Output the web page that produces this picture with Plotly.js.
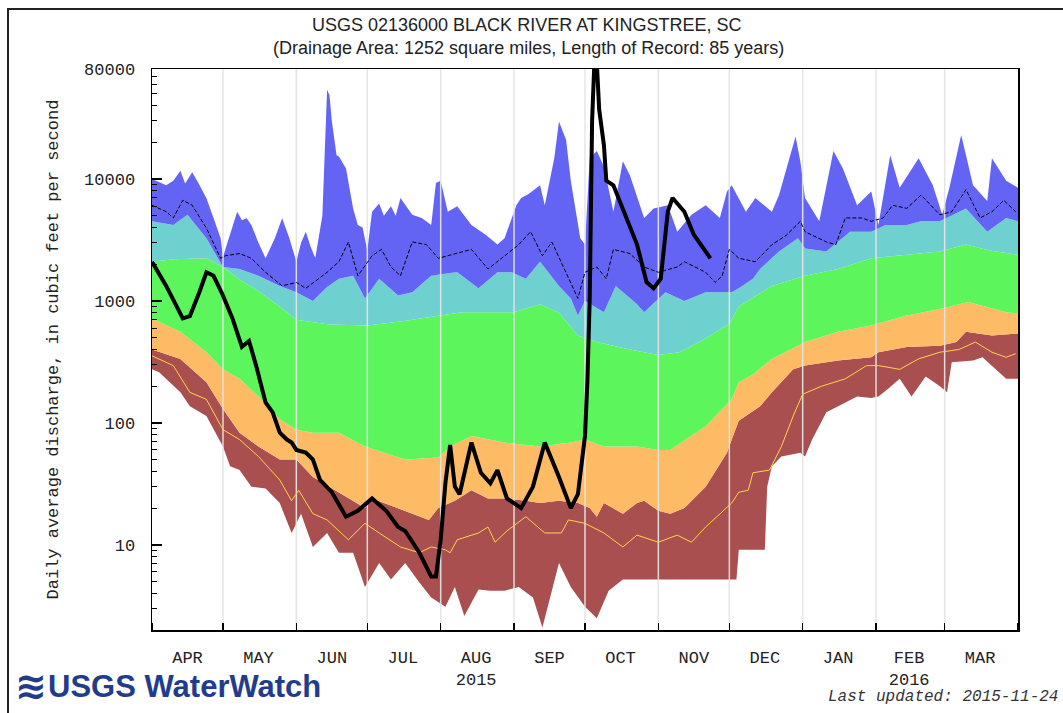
<!DOCTYPE html>
<html><head><meta charset="utf-8">
<script src="https://cdn.plot.ly/plotly-3.0.1.min.js"></script>
<style>html,body{margin:0;padding:0;background:#fff;}#chart{width:1063px;height:713px;}</style>
</head><body><div id="chart"></div>
<script>
// ---- data (cfs) ----
const maxFlow = [['2015-04-01',10000],['2015-04-07',8900],['2015-04-10',9700],['2015-04-13',11700],['2015-04-15',9200],['2015-04-18',11400],['2015-04-21',9000],['2015-04-24',6950],['2015-04-27',4800],['2015-04-30',3270],['2015-05-01',2300],['2015-05-04',3500],['2015-05-07',5400],['2015-05-09',4600],['2015-05-11',4780],['2015-05-13',4200],['2015-05-16',3000],['2015-05-19',2240],['2015-05-23',3300],['2015-05-26',4780],['2015-05-29',3300],['2015-06-01',2100],['2015-06-03',3000],['2015-06-05',3700],['2015-06-07',2800],['2015-06-09',2250],['2015-06-12',5000],['2015-06-14',54000],['2015-06-15',49000],['2015-06-16',30000],['2015-06-18',15700],['2015-06-19',15300],['2015-06-22',12200],['2015-06-25',5750],['2015-06-27',4200],['2015-06-29',4000],['2015-07-01',2600],['2015-07-03',5400],['2015-07-06',6300],['2015-07-08',5000],['2015-07-11',6000],['2015-07-13',5000],['2015-07-15',7000],['2015-07-20',5100],['2015-07-24',4800],['2015-07-28',4200],['2015-07-30',9300],['2015-08-01',9700],['2015-08-04',5400],['2015-08-08',6000],['2015-08-14',4200],['2015-08-20',3500],['2015-08-25',2900],['2015-08-28',3270],['2015-08-30',4200],['2015-09-02',6100],['2015-09-04',7000],['2015-09-07',7500],['2015-09-12',8900],['2015-09-14',6100],['2015-09-18',14800],['2015-09-20',29700],['2015-09-23',21000],['2015-09-25',9700],['2015-09-29',3270],['2015-10-01',2900],['2015-10-03',14800],['2015-10-06',17000],['2015-10-09',12700],['2015-10-13',5400],['2015-10-17',14000],['2015-10-20',10700],['2015-10-26',4800],['2015-10-30',5750],['2015-11-05',6100],['2015-11-09',3700],['2015-11-15',5100],['2015-11-21',6100],['2015-11-27',4800],['2015-11-30',7900],['2015-12-02',8900],['2015-12-08',5400],['2015-12-12',7000],['2015-12-19',5400],['2015-12-22',7400],['2015-12-29',22400],['2015-12-31',14000],['2016-01-02',7000],['2016-01-08',4500],['2016-01-14',17000],['2016-01-18',12200],['2016-01-24',6100],['2016-01-30',7900],['2016-02-02',4200],['2016-02-07',15700],['2016-02-11',8500],['2016-02-19',14800],['2016-02-25',8900],['2016-02-29',5100],['2016-03-03',8500],['2016-03-08',23000],['2016-03-13',8900],['2016-03-19',6600],['2016-03-21',14800],['2016-03-27',9700],['2016-04-01',8500]];

const p90Flow = [['2015-04-01',4500],['2015-04-10',4200],['2015-04-16',5100],['2015-04-24',3270],['2015-05-01',1900],['2015-05-08',1830],['2015-05-16',1610],['2015-05-25',1330],['2015-06-01',1180],['2015-06-08',1000],['2015-06-14',1300],['2015-06-19',1520],['2015-06-25',1610],['2015-06-30',1050],['2015-07-06',1520],['2015-07-14',1110],['2015-07-20',1180],['2015-07-28',1610],['2015-08-05',1700],['2015-08-08',1720],['2015-08-17',1270],['2015-08-25',1720],['2015-08-31',1720],['2015-09-06',1520],['2015-09-12',2100],['2015-09-20',1330],['2015-09-25',1050],['2015-09-28',760],['2015-10-01',1000],['2015-10-09',810],['2015-10-14',1330],['2015-10-23',940],['2015-10-26',810],['2015-11-04',1180],['2015-11-12',1000],['2015-11-21',1180],['2015-12-02',1180],['2015-12-05',1270],['2015-12-11',1520],['2015-12-14',1830],['2015-12-22',2550],['2015-12-30',3270],['2016-01-02',2700],['2016-01-11',2550],['2016-01-21',3700],['2016-01-30',3700],['2016-02-05',4200],['2016-02-14',4200],['2016-02-20',4500],['2016-02-28',4500],['2016-03-10',5750],['2016-03-19',3700],['2016-03-27',4800],['2016-04-01',4500]];

const p75Flow = [['2015-04-01',2100],['2015-04-10',2200],['2015-04-24',2240],['2015-05-01',1900],['2015-05-08',1500],['2015-05-16',1200],['2015-05-25',900],['2015-06-01',700],['2015-06-15',640],['2015-07-01',630],['2015-07-15',680],['2015-07-31',760],['2015-08-10',810],['2015-08-25',810],['2015-09-01',810],['2015-09-12',940],['2015-09-20',800],['2015-09-28',520],['2015-10-06',460],['2015-10-20',400],['2015-11-01',360],['2015-11-10',380],['2015-11-20',480],['2015-12-01',650],['2015-12-05',900],['2015-12-19',1330],['2016-01-02',1610],['2016-01-16',1830],['2016-01-30',2240],['2016-02-14',2400],['2016-02-28',2550],['2016-03-10',2900],['2016-03-20',2600],['2016-04-01',2400]];

const p25Flow = [['2015-04-01',720],['2015-04-13',560],['2015-04-24',380],['2015-05-01',275],['2015-05-08',230],['2015-05-16',165],['2015-05-25',107],['2015-06-01',88],['2015-06-08',83],['2015-06-19',83],['2015-06-30',64],['2015-07-17',50],['2015-07-31',52],['2015-08-05',64],['2015-08-14',78],['2015-08-28',69],['2015-09-12',64],['2015-09-25',69],['2015-10-01',73],['2015-10-09',64],['2015-10-23',64],['2015-11-01',60],['2015-11-06',60],['2015-11-21',94],['2015-12-02',156],['2015-12-05',215],['2015-12-11',250],['2015-12-19',335],['2016-01-02',460],['2016-01-16',560],['2016-01-30',630],['2016-02-14',760],['2016-02-28',860],['2016-03-11',980],['2016-03-27',810],['2016-04-01',790]];

const p10Flow = [['2015-04-01',400],['2015-04-13',335],['2015-04-24',215],['2015-05-01',130],['2015-05-08',83],['2015-05-16',64],['2015-05-25',50],['2015-06-01',50],['2015-06-08',36],['2015-06-19',27],['2015-06-30',20],['2015-07-03',24],['2015-07-17',19],['2015-07-27',16],['2015-07-31',20],['2015-08-07',23],['2015-08-14',28],['2015-08-21',24],['2015-08-28',24],['2015-09-06',23],['2015-09-12',22],['2015-09-20',23],['2015-09-28',22],['2015-10-03',20],['2015-10-06',17],['2015-10-09',22],['2015-10-17',18],['2015-10-23',22],['2015-10-26',23],['2015-11-01',19],['2015-11-06',18],['2015-11-12',20],['2015-11-21',30],['2015-11-30',57],['2015-12-02',73],['2015-12-05',104],['2015-12-14',137],['2015-12-19',178],['2015-12-28',275],['2016-01-02',295],['2016-01-16',325],['2016-01-30',345],['2016-02-02',380],['2016-02-14',420],['2016-02-28',430],['2016-03-06',460],['2016-03-10',560],['2016-03-21',520],['2016-04-01',540]];

const minFlow = [['2015-04-01',275],['2015-04-04',260],['2015-04-13',178],['2015-04-17',137],['2015-04-24',114],['2015-05-01',64],['2015-05-04',44],['2015-05-08',41],['2015-05-13',30],['2015-05-19',29],['2015-05-25',22],['2015-05-30',12.5],['2015-06-03',18],['2015-06-08',9.6],['2015-06-14',12.5],['2015-06-19',8.6],['2015-06-25',8.6],['2015-06-30',4.5],['2015-07-06',7.1],['2015-07-11',5.2],['2015-07-17',7.1],['2015-07-23',4.9],['2015-07-28',3.7],['2015-08-03',3.1],['2015-08-07',4.5],['2015-08-11',2.6],['2015-08-17',4.3],['2015-08-22',4.2],['2015-08-28',4.2],['2015-09-03',4.5],['2015-09-09',3.7],['2015-09-13',2.1],['2015-09-20',7.1],['2015-09-25',4.5],['2015-10-01',3.1],['2015-10-06',2.5],['2015-10-11',4.2],['2015-10-17',5.2],['2015-12-04',5.2],['2015-12-05',9.1],['2015-12-16',9.1],['2015-12-17',30],['2015-12-19',44],['2015-12-23',53],['2015-12-31',57],['2016-01-02',53],['2016-01-05',73],['2016-01-11',122],['2016-01-16',137],['2016-01-24',165],['2016-01-30',160],['2016-02-02',165],['2016-02-06',190],['2016-02-11',230],['2016-02-16',165],['2016-02-22',240],['2016-02-28',200],['2016-03-02',178],['2016-03-04',315],['2016-03-13',325],['2016-03-17',345],['2016-03-27',230],['2016-04-01',230]];

const meanFlow = [['2015-04-01',6100],['2015-04-07',5400],['2015-04-10',4800],['2015-04-14',6700],['2015-04-18',6100],['2015-04-24',3950],['2015-04-30',2240],['2015-05-02',2350],['2015-05-08',2450],['2015-05-13',2240],['2015-05-19',1720],['2015-05-26',1330],['2015-06-01',1420],['2015-06-05',1270],['2015-06-14',1720],['2015-06-19',2100],['2015-06-23',3050],['2015-06-27',1610],['2015-07-03',2350],['2015-07-07',2650],['2015-07-11',1900],['2015-07-15',1610],['2015-07-20',3050],['2015-07-26',2900],['2015-07-31',2240],['2015-08-08',2450],['2015-08-14',2650],['2015-08-21',1830],['2015-08-28',2350],['2015-09-03',2900],['2015-09-08',3700],['2015-09-13',2350],['2015-09-17',3050],['2015-09-23',1720],['2015-09-28',1050],['2015-10-01',1720],['2015-10-06',1900],['2015-10-10',1520],['2015-10-13',2650],['2015-10-20',2450],['2015-10-26',1900],['2015-11-01',1720],['2015-11-09',1900],['2015-11-12',2100],['2015-11-21',1720],['2015-11-25',1420],['2015-11-28',1610],['2015-12-01',2650],['2015-12-05',2240],['2015-12-12',2100],['2015-12-19',2900],['2015-12-25',3450],['2015-12-31',4500],['2016-01-02',3700],['2016-01-11',3050],['2016-01-15',2900],['2016-01-19',4800],['2016-01-26',4800],['2016-01-30',4500],['2016-02-04',4800],['2016-02-08',6100],['2016-02-14',5750],['2016-02-20',7400],['2016-02-28',5100],['2016-03-04',5400],['2016-03-10',8200],['2016-03-16',4800],['2016-03-21',5400],['2016-03-26',6700],['2016-03-31',5400]];

const yellowFlow = [['2015-04-01',355],['2015-04-10',295],['2015-04-17',178],['2015-04-24',156],['2015-05-01',88],['2015-05-08',73],['2015-05-16',53],['2015-05-25',34],['2015-05-30',23],['2015-06-02',28],['2015-06-08',18],['2015-06-14',16],['2015-06-23',11],['2015-06-30',15],['2015-07-06',12.5],['2015-07-15',9.6],['2015-07-23',8.6],['2015-07-28',9.6],['2015-08-03',9.1],['2015-08-05',8.6],['2015-08-08',11],['2015-08-17',12.5],['2015-08-21',14],['2015-08-24',10.5],['2015-08-29',13],['2015-09-06',17],['2015-09-14',12.5],['2015-09-21',12.5],['2015-09-24',16],['2015-10-01',15],['2015-10-09',12.5],['2015-10-17',9.6],['2015-10-23',12],['2015-11-01',10.5],['2015-11-09',12],['2015-11-15',10.5],['2015-11-21',14],['2015-11-27',18],['2015-12-02',22],['2015-12-05',27],['2015-12-09',28],['2015-12-11',39],['2015-12-18',41],['2015-12-23',64],['2015-12-28',114],['2016-01-01',172],['2016-01-09',200],['2016-01-19',230],['2016-01-28',295],['2016-02-02',295],['2016-02-11',275],['2016-02-19',335],['2016-02-28',380],['2016-03-07',400],['2016-03-14',460],['2016-03-21',380],['2016-03-27',345],['2016-03-31',370]];

const currentFlow = [['2015-04-01',2100],['2015-04-07',1330],['2015-04-14',720],['2015-04-17',750],['2015-04-21',1180],['2015-04-24',1720],['2015-04-27',1610],['2015-05-01',1110],['2015-05-05',720],['2015-05-09',420],['2015-05-12',470],['2015-05-15',295],['2015-05-19',147],['2015-05-22',122],['2015-05-25',83],['2015-05-28',73],['2015-05-30',69],['2015-06-01',60],['2015-06-05',57],['2015-06-08',50],['2015-06-11',34],['2015-06-16',27],['2015-06-22',17],['2015-06-27',19],['2015-07-03',24],['2015-07-09',19],['2015-07-14',14],['2015-07-17',13],['2015-07-23',8.6],['2015-07-28',5.5],['2015-07-30',5.5],['2015-08-01',11],['2015-08-03',32],['2015-08-05',66],['2015-08-07',30],['2015-08-09',26],['2015-08-14',69],['2015-08-18',39],['2015-08-22',32],['2015-08-25',41],['2015-08-29',24],['2015-09-04',20],['2015-09-09',30],['2015-09-14',69],['2015-09-20',36],['2015-09-25',20],['2015-09-28',26],['2015-10-01',78],['2015-10-02',215],['2015-10-03',1050],['2015-10-04',30000],['2015-10-05',95000],['2015-10-06',90000],['2015-10-07',37000],['2015-10-09',19000],['2015-10-10',9700],['2015-10-13',8900],['2015-10-17',5750],['2015-10-23',2900],['2015-10-27',1430],['2015-10-30',1270],['2015-11-02',1520],['2015-11-05',5400],['2015-11-07',7000],['2015-11-12',5400],['2015-11-16',3500],['2015-11-21',2550],['2015-11-23',2240]];

const monthStarts = ['2015-05-01','2015-06-01','2015-07-01','2015-08-01','2015-09-01','2015-10-01','2015-11-01','2015-12-01','2016-01-01','2016-02-01','2016-03-01'];
const monthMids = ['2015-04-16','2015-05-16','2015-06-16','2015-07-16','2015-08-16','2015-09-16','2015-10-16','2015-11-16','2015-12-16','2016-01-16','2016-02-15','2016-03-16'];
const monthLabels = ['APR','MAY','JUN','JUL','AUG<br>2015','SEP','OCT','NOV','DEC','JAN','FEB<br>2016','MAR'];
const yTickVals = [10,100,1000,10000,80000];
const yTickText = ['10','100','1000','10000','80000'];

// ---- helpers ----
const X = a => a.map(p => p[0]);
const Y = a => a.map(p => p[1]);
const yMin = 2, yMax = 80000;
const minorY = [];
for (let e = 0; e <= 4; e++) for (let m = 2; m <= 9; m++) { const v = m * Math.pow(10, e); if (v < yMax) minorY.push(v); }

const band = (src, color) => ({x: X(src), y: Y(src), type: 'scatter', mode: 'lines', fill: 'tonexty', fillcolor: color, line: {width: 0, color: color}, hoverinfo: 'skip', showlegend: false});

const gridX = [], gridY = [];
monthStarts.forEach(d => { gridX.push(d, d, null); gridY.push(yMin, yMax, null); });

const traces = [
  {x: X(minFlow), y: Y(minFlow), type: 'scatter', mode: 'lines', line: {width: 0}, hoverinfo: 'skip', showlegend: false},
  band(p10Flow, '#a94f4f'),
  band(p25Flow, '#fdbb66'),
  band(p75Flow, '#5cf65c'),
  band(p90Flow, '#6fd0d0'),
  band(maxFlow, '#6464f4'),
  {x: gridX, y: gridY, type: 'scatter', mode: 'lines', line: {width: 1.5, color: 'rgba(228,228,228,0.95)'}, hoverinfo: 'skip', showlegend: false},
  {x: X(yellowFlow), y: Y(yellowFlow), type: 'scatter', mode: 'lines', line: {width: 1, color: '#ffd54a'}, hoverinfo: 'skip', showlegend: false},
  {x: X(meanFlow), y: Y(meanFlow), type: 'scatter', mode: 'lines', line: {width: 1, color: '#000', dash: '4px,2px'}, hoverinfo: 'skip', showlegend: false},
  {x: X(currentFlow), y: Y(currentFlow), type: 'scatter', mode: 'lines', line: {width: 4, color: '#000'}, hoverinfo: 'skip', showlegend: false}
];

const px = v => (v - 152) / 866;      // page px -> paper x
const py = v => (630 - v) / 561;      // page px -> paper y

const layout = {
  width: 1063, height: 713,
  margin: {l: 152, r: 45, t: 69, b: 83},
  paper_bgcolor: '#fff', plot_bgcolor: '#fff',
  showlegend: false, hovermode: false,
  xaxis: {
    type: 'date', range: ['2015-04-01', '2016-04-01'],
    tickmode: 'array', tickvals: monthMids, ticktext: monthLabels, ticks: '',
    tickfont: {family: 'Liberation Mono, DejaVu Sans Mono, monospace', size: 17, color: '#222'},
    ticklabelstandoff: 11,
    showgrid: false, zeroline: false,
    showline: true, mirror: true, linecolor: '#000', linewidth: 1.5,
    minor: {tickmode: 'linear', tick0: '2015-04-01', dtick: 'M1', ticks: 'inside', ticklen: 7, tickcolor: '#000', tickwidth: 1.5, showgrid: false}
  },
  yaxis: {
    type: 'log', range: [Math.log10(yMin), Math.log10(yMax)],
    tickmode: 'array', tickvals: yTickVals, ticktext: yTickText,
    ticks: 'inside', ticklen: 10, tickcolor: '#000', tickwidth: 1.5,
    tickfont: {family: 'Liberation Mono, DejaVu Sans Mono, monospace', size: 17, color: '#222'},
    ticklabelstandoff: 12,
    showgrid: false, zeroline: false,
    showline: true, mirror: true, linecolor: '#000', linewidth: 1.5,
    minor: {tickmode: 'array', tickvals: minorY, ticks: 'inside', ticklen: 5, tickcolor: '#000', tickwidth: 1, showgrid: false}
  },
  shapes: [
    {type: 'rect', xref: 'paper', yref: 'paper', x0: px(8), x1: 1.2, y0: -0.3, y1: py(9), line: {color: '#222', width: 2}, fillcolor: 'rgba(0,0,0,0)'}
  ],
  annotations: [
    {text: 'USGS 02136000 BLACK RIVER AT KINGSTREE, SC', xref: 'paper', yref: 'paper', x: px(527), y: py(25), xanchor: 'center', yanchor: 'middle', showarrow: false,
     font: {family: 'Liberation Sans, Arial, sans-serif', size: 18, color: '#222'}},
    {text: '(Drainage Area: 1252 square miles, Length of Record: 85 years)', xref: 'paper', yref: 'paper', x: px(528), y: py(48), xanchor: 'center', yanchor: 'middle', showarrow: false,
     font: {family: 'Liberation Sans, Arial, sans-serif', size: 18, color: '#222'}},
    {text: 'Daily average discharge, in cubic feet per second', xref: 'paper', yref: 'paper', x: px(53), y: 0.5, xanchor: 'center', yanchor: 'middle', textangle: -90, showarrow: false,
     font: {family: 'Liberation Mono, DejaVu Sans Mono, monospace', size: 17, color: '#222'}},
    {text: '<b>≋</b>', xref: 'paper', yref: 'paper', x: px(31), y: py(686), xanchor: 'center', yanchor: 'middle', showarrow: false,
     font: {family: 'DejaVu Sans, sans-serif', size: 38, color: '#1f3d8c'}},
    {text: '<b>USGS WaterWatch</b>', xref: 'paper', yref: 'paper', x: px(46), y: py(686), xanchor: 'left', yanchor: 'middle', showarrow: false,
     font: {family: 'Liberation Sans, Arial, sans-serif', size: 31, color: '#1f3d8c'}},
    {text: 'Last updated: 2015-11-24', xref: 'paper', yref: 'paper', x: px(826), y: py(697), xanchor: 'left', yanchor: 'middle', showarrow: false,
     font: {family: 'Liberation Mono, DejaVu Sans Mono, monospace', size: 16, color: '#333', style: 'italic'}}
  ]
};

Plotly.newPlot('chart', traces, layout, {displayModeBar: false, staticPlot: true});
</script>
</body></html>
